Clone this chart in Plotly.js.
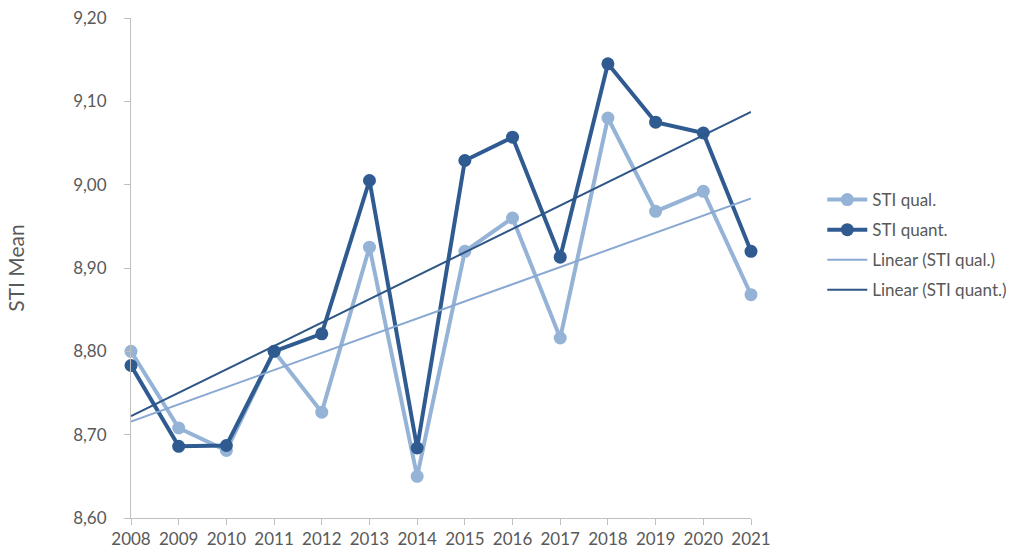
<!DOCTYPE html>
<html>
<head>
<meta charset="utf-8">
<script src="https://cdn.plot.ly/plotly-3.0.1.min.js"></script>
<style>html,body{margin:0;padding:0;background:#fff;}#chart{width:1035px;height:556px;}</style>
</head>
<body>
<div id="chart"></div>
<script>
const years = ["2008","2009","2010","2011","2012","2013","2014","2015","2016","2017","2018","2019","2020","2021"];
const stiQual  = [8.80, 8.708, 8.681, 8.80, 8.727, 8.925, 8.650, 8.920, 8.960, 8.816, 9.080, 8.968, 8.992, 8.868];
const stiQuant = [8.783, 8.686, 8.687, 8.80, 8.821, 9.005, 8.684, 9.029, 9.057, 8.913, 9.145, 9.075, 9.062, 8.920];
const yTicks = [8.6, 8.7, 8.8, 8.9, 9.0, 9.1, 9.2];

function linearFit(vals) {
  const n = vals.length;
  const xs = vals.map((_, i) => i);
  const mx = xs.reduce((a, b) => a + b, 0) / n;
  const my = vals.reduce((a, b) => a + b, 0) / n;
  let num = 0, den = 0;
  for (let i = 0; i < n; i++) { num += (xs[i] - mx) * (vals[i] - my); den += (xs[i] - mx) ** 2; }
  const slope = num / den;
  const icpt = my - slope * mx;
  return xs.map(x => icpt + slope * x);
}

const cQual = '#95b3d7', cQuant = '#2f5b91', cTrQual = '#8aa9d2', cTrQuant = '#2e5686';
const font = {family: 'Lato, "Open Sans", sans-serif', size: 17, color: '#595959'};
const titleFont = {family: 'Lato, "Open Sans", sans-serif', size: 21, color: '#595959'};

const traces = [
  {x: years, y: stiQual, name: 'STI qual.', type: 'scatter', mode: 'lines+markers', legendgroup: 'a',
   line: {color: cQual, width: 4}, marker: {color: cQual, size: 13}, cliponaxis: false},
  {x: years, y: stiQuant, name: 'STI quant.', type: 'scatter', mode: 'lines+markers', legendgroup: 'b',
   line: {color: cQuant, width: 4}, marker: {color: cQuant, size: 13}, cliponaxis: false},
  {x: years, y: linearFit(stiQual), name: 'Linear (STI qual.)', type: 'scatter', mode: 'lines', legendgroup: 'c',
   line: {color: cTrQual, width: 2}, cliponaxis: false},
  {x: years, y: linearFit(stiQuant), name: 'Linear (STI quant.)', type: 'scatter', mode: 'lines', legendgroup: 'd',
   line: {color: cTrQuant, width: 2}, cliponaxis: false}
];

const layout = {
  width: 1035, height: 556,
  margin: {l: 131, r: 284, t: 18, b: 38, pad: 0},
  paper_bgcolor: '#fff', plot_bgcolor: '#fff',
  separators: ',.',
  font: font,
  showlegend: true,
  legend: {x: 1.115, xanchor: 'left', y: 0.672, yanchor: 'top', font: font,
           traceorder: 'grouped', tracegroupgap: 5, bgcolor: 'rgba(0,0,0,0)', itemwidth: 40},
  xaxis: {type: 'category', range: [0, 13], showgrid: false, zeroline: false,
          showline: true, linecolor: '#bfbfbf', linewidth: 1,
          ticks: 'outside', ticklen: 6, tickcolor: '#bfbfbf', tickfont: font,
          fixedrange: true},
  yaxis: {range: [8.6, 9.2], tickvals: yTicks, tickformat: '.2f', showgrid: false, zeroline: false,
          showline: true, linecolor: '#bfbfbf', linewidth: 1,
          ticks: 'outside', ticklen: 6, tickcolor: '#bfbfbf', tickfont: font,
          ticklabelstandoff: 14,
          title: {text: 'STI Mean', font: titleFont, standoff: 42}, fixedrange: true}
};

Plotly.newPlot('chart', traces, layout, {displayModeBar: false, staticPlot: true});
</script>
</body>
</html>
